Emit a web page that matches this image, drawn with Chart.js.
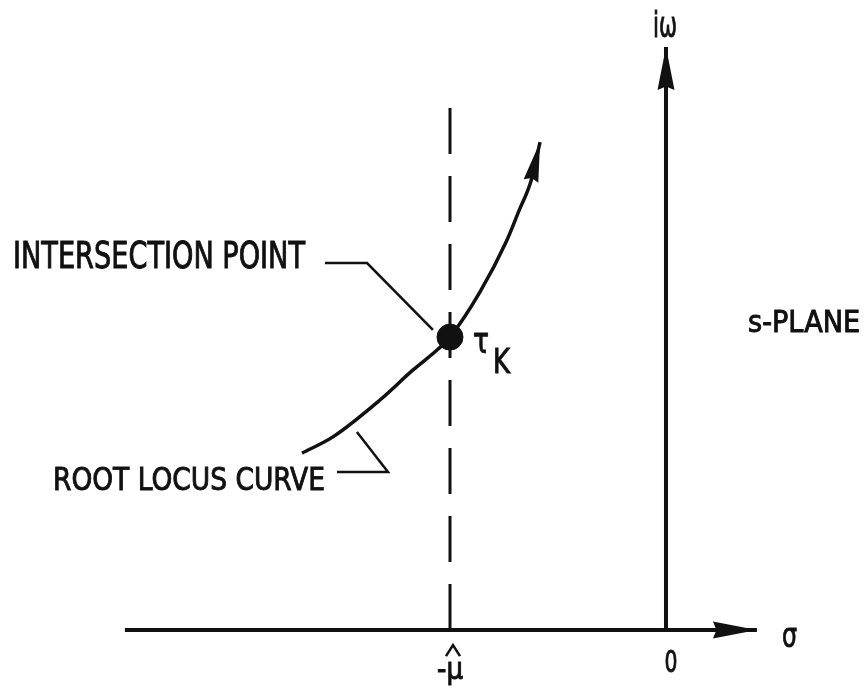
<!DOCTYPE html>
<html>
<head>
<meta charset="utf-8">
<title>Root locus in the s-plane</title>
<script src="https://cdn.jsdelivr.net/npm/chart.js@4/dist/chart.umd.min.js"></script>
<style>
  html, body { margin: 0; padding: 0; background: #fff; }
  #wrap { width: 868px; height: 691px; }
</style>
</head>
<body>
<div id="wrap"><canvas id="myChart"></canvas></div>
<script>
// s-plane in units of mu-hat (sigma to the right, i*omega up)
var sigmaAxis = [{x: -2.505, y: 0}, {x: 0.421, y: 0}];
var omegaAxis = [{x: 0, y: 0}, {x: 0, y: 2.699}];
var muLine = [{x: -1, y: 0}, {x: -1, y: 2.509}];

// root locus branch, last point is the arrow tip
var locusSigma = [-1.685, -1.542, -1.324, -1.171, -1.060, -1.000, -0.861, -0.736, -0.681, -0.625, -0.583];
var locusOmega = [0.819, 0.894, 1.065, 1.204, 1.296, 1.356, 1.565, 1.806, 1.940, 2.079, 2.259];

var intersection = [{x: -1.0, y: 1.356}];

// callout leaders
var pointLeader = [{x: -1.579, y: 1.699}, {x: -1.384, y: 1.699}, {x: -1.079, y: 1.389}];
var curveLeader = [{x: -1.523, y: 0.731}, {x: -1.287, y: 0.731}, {x: -1.431, y: 0.917}];

var tickLabels = ['-\u03bc', '0'];
var tickValues = [-1, 0];

var ink = '#111';
var fontFam = '"Liberation Sans Narrow", "DejaVu Sans Condensed", "Liberation Sans", sans-serif';

var locus = locusSigma.map(function (s, i) { return {x: s, y: locusOmega[i]}; });

function lineSet(data, width, extra) {
  var d = {
    data: data, showLine: true, fill: false,
    borderColor: ink, borderWidth: width,
    pointRadius: 0, borderCapStyle: 'butt', tension: 0
  };
  for (var k in extra) d[k] = extra[k];
  return d;
}

// draws a filled arrow head at the end of datasets that ask for one
var arrowHeads = {
  id: 'arrowHeads',
  afterDatasetsDraw: function (chart) {
    var ctx = chart.ctx, xs = chart.scales.x, ys = chart.scales.y;
    chart.data.datasets.forEach(function (ds) {
      if (!ds.arrow) return;
      var n = ds.data.length;
      var a = ds.data[n - 2], b = ds.data[n - 1];
      var x1 = xs.getPixelForValue(a.x), y1 = ys.getPixelForValue(a.y);
      var x2 = xs.getPixelForValue(b.x), y2 = ys.getPixelForValue(b.y);
      var ang = Math.atan2(y2 - y1, x2 - x1);
      var L = ds.arrow.len, W = ds.arrow.width / 2;
      ctx.save();
      ctx.translate(x2, y2);
      ctx.rotate(ang);
      ctx.beginPath();
      ctx.moveTo(0, 0);
      ctx.lineTo(-L, -W);
      ctx.lineTo(-L * 0.92, 0);
      ctx.lineTo(-L, W);
      ctx.closePath();
      ctx.fillStyle = ink;
      ctx.fill();
      ctx.restore();
    });
  }
};

function putText(ctx, txt, px, py, size, width, align) {
  ctx.save();
  ctx.font = size + 'px ' + fontFam;
  var w = ctx.measureText(txt).width;
  var sx = width ? width / w : 1;
  ctx.translate(px, py);
  ctx.scale(sx, 1);
  ctx.textAlign = align || 'left';
  ctx.textBaseline = 'alphabetic';
  ctx.fillStyle = ink;
  ctx.strokeStyle = ink;
  ctx.lineWidth = 0.9;
  ctx.fillText(txt, 0, 0);
  ctx.strokeText(txt, 0, 0);
  ctx.restore();
}

// text labels placed in data coordinates
var labelPlugin = {
  id: 'labels',
  afterDatasetsDraw: function (chart) {
    var ctx = chart.ctx, xs = chart.scales.x, ys = chart.scales.y;
    function X(v) { return xs.getPixelForValue(v); }
    function Y(v) { return ys.getPixelForValue(v); }

    putText(ctx, 'INTERSECTION POINT', X(-3.023), Y(1.676), 37, 292);
    putText(ctx, 'ROOT LOCUS CURVE', X(-2.838), Y(0.648), 32, 272);
    putText(ctx, 's-PLANE', X(0.380), Y(1.380), 30, 112);
    putText(ctx, 'i\u03c9', X(-0.060), Y(2.745), 36, 24);
    putText(ctx, '\u03c4', X(-0.894), Y(1.282), 36, 16);
    putText(ctx, 'K', X(-0.801), Y(1.190), 34, 17);
    putText(ctx, '\u03c3', X(0.537), Y(-0.079), 34, 15);

    // tick labels under the sigma axis
    putText(ctx, tickLabels[0], X(tickValues[0]), Y(-0.225), 30, 26, 'center');
    putText(ctx, tickLabels[1], X(tickValues[1]) + 5, Y(-0.194), 31, 13, 'center');

    // hat over mu
    var hx = X(tickValues[0]) + 3, hy = Y(-0.07);
    ctx.save();
    ctx.strokeStyle = ink;
    ctx.lineWidth = 2.5;
    ctx.beginPath();
    ctx.moveTo(hx - 7, hy + 11);
    ctx.lineTo(hx, hy);
    ctx.lineTo(hx + 7, hy + 11);
    ctx.stroke();
    ctx.restore();
  }
};

var ctx = document.getElementById('myChart').getContext('2d');
var myChart = new Chart(ctx, {
  type: 'scatter',
  data: {
    datasets: [
      lineSet(sigmaAxis, 4, {arrow: {len: 44, width: 17}}),
      lineSet(omegaAxis, 4, {arrow: {len: 43, width: 17}}),
      lineSet(muLine, 3, {borderDash: [46, 22]}),
      lineSet(locus, 3.5, {cubicInterpolationMode: 'monotone', arrow: {len: 40, width: 15}}),
      lineSet(pointLeader, 2.5, {}),
      lineSet(curveLeader, 2.5, {}),
      {
        data: intersection, showLine: false,
        pointRadius: 13, pointBackgroundColor: ink, pointBorderColor: ink
      }
    ]
  },
  options: {
    responsive: true,
    maintainAspectRatio: false,
    animation: false,
    layout: { padding: 0, autoPadding: false },
    plugins: {
      legend: { display: false },
      tooltip: { enabled: false }
    },
    scales: {
      x: { type: 'linear', display: false, min: -3.0833, max: 0.9352 },
      y: { type: 'linear', display: false, min: -0.2824, max: 2.9167 }
    }
  },
  plugins: [arrowHeads, labelPlugin]
});
</script>
</body>
</html>
